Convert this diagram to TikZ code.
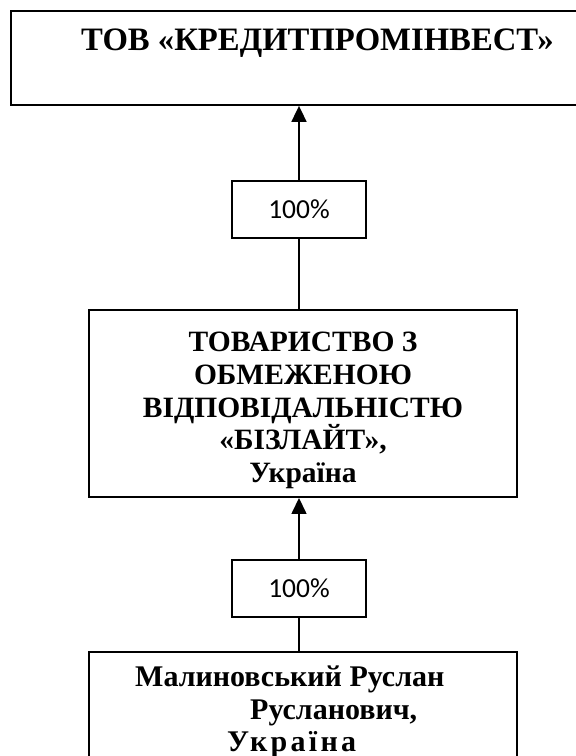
\documentclass[tikz,border=0pt]{standalone}
\usepackage{fontspec}
\setmainfont{Liberation Serif}
\newfontfamily\pctfont{Carlito}
\newfontfamily\widefont[LetterSpace=11]{Liberation Serif}
\usetikzlibrary{positioning,arrows.meta}

\tikzset{
  orgbox/.style = {draw, line width=1.9pt, rectangle, inner sep=0pt},
  pctbox/.style = {draw, line width=1.9pt, rectangle, inner sep=0pt,
                   minimum width=134pt, minimum height=57pt,
                   font=\pctfont\fontsize{27.5}{30}\selectfont},
  orgtext/.style = {inner sep=0pt, align=center,
                    font=\bfseries\fontsize{29.5}{32.75}\selectfont},
  link/.style = {line width=1.5pt},
  tip/.style = {-{Triangle[width=15pt,length=16pt]}}
}

\begin{document}
\begin{tikzpicture}[x=1pt, y=-1pt]
  \clip (0,0) rectangle (576,756);

  % Define boxes
  \node [orgbox, anchor=north west, minimum width=613pt,
         text height=40pt, text depth=54pt,
         font=\bfseries\fontsize{32.7}{36}\selectfont] (kpi) at (10,10)
        {ТОВ «КРЕДИТПРОМІНВЕСТ»};

  \node [orgbox, minimum width=428pt, minimum height=187pt] (biz) at (303,403.5) {};
  \node [orgtext] (biztxt) at ([yshift=-7pt]biz.center)
        {ТОВАРИСТВО З\\ОБМЕЖЕНОЮ\\ВІДПОВІДАЛЬНІСТЮ\\«БІЗЛАЙТ»,\\Україна};

  \node [pctbox, above = 70pt of biz, xshift=-4pt] (pct1) {100\%};
  \node [pctbox, below = 61pt of biz, xshift=-4pt] (pct2) {100\%};

  \node [orgbox, below = 33pt of pct2, xshift=4pt,
         minimum width=428pt, minimum height=160pt] (mal) {};
  \node [orgtext, align=left, anchor=north west,
         font=\bfseries\fontsize{30}{32.5}\selectfont] (maltxt) at (135,666)
        {Малиновський Руслан\\
         \hspace*{115pt}Русланович,\\
         \hspace*{92pt}{\widefont\bfseries Україна}};

  % Draw links
  \draw [link, line width=1.8pt, tip] (pct1) -- (pct1 |- kpi.south);
  \draw [link, line width=1.8pt] (pct1) -- (pct1 |- biz.north);
  \draw [link, tip] (pct2) -- (pct2 |- biz.south);
  \draw [link] (pct2) -- (pct2 |- mal.north);
\end{tikzpicture}
\end{document}
